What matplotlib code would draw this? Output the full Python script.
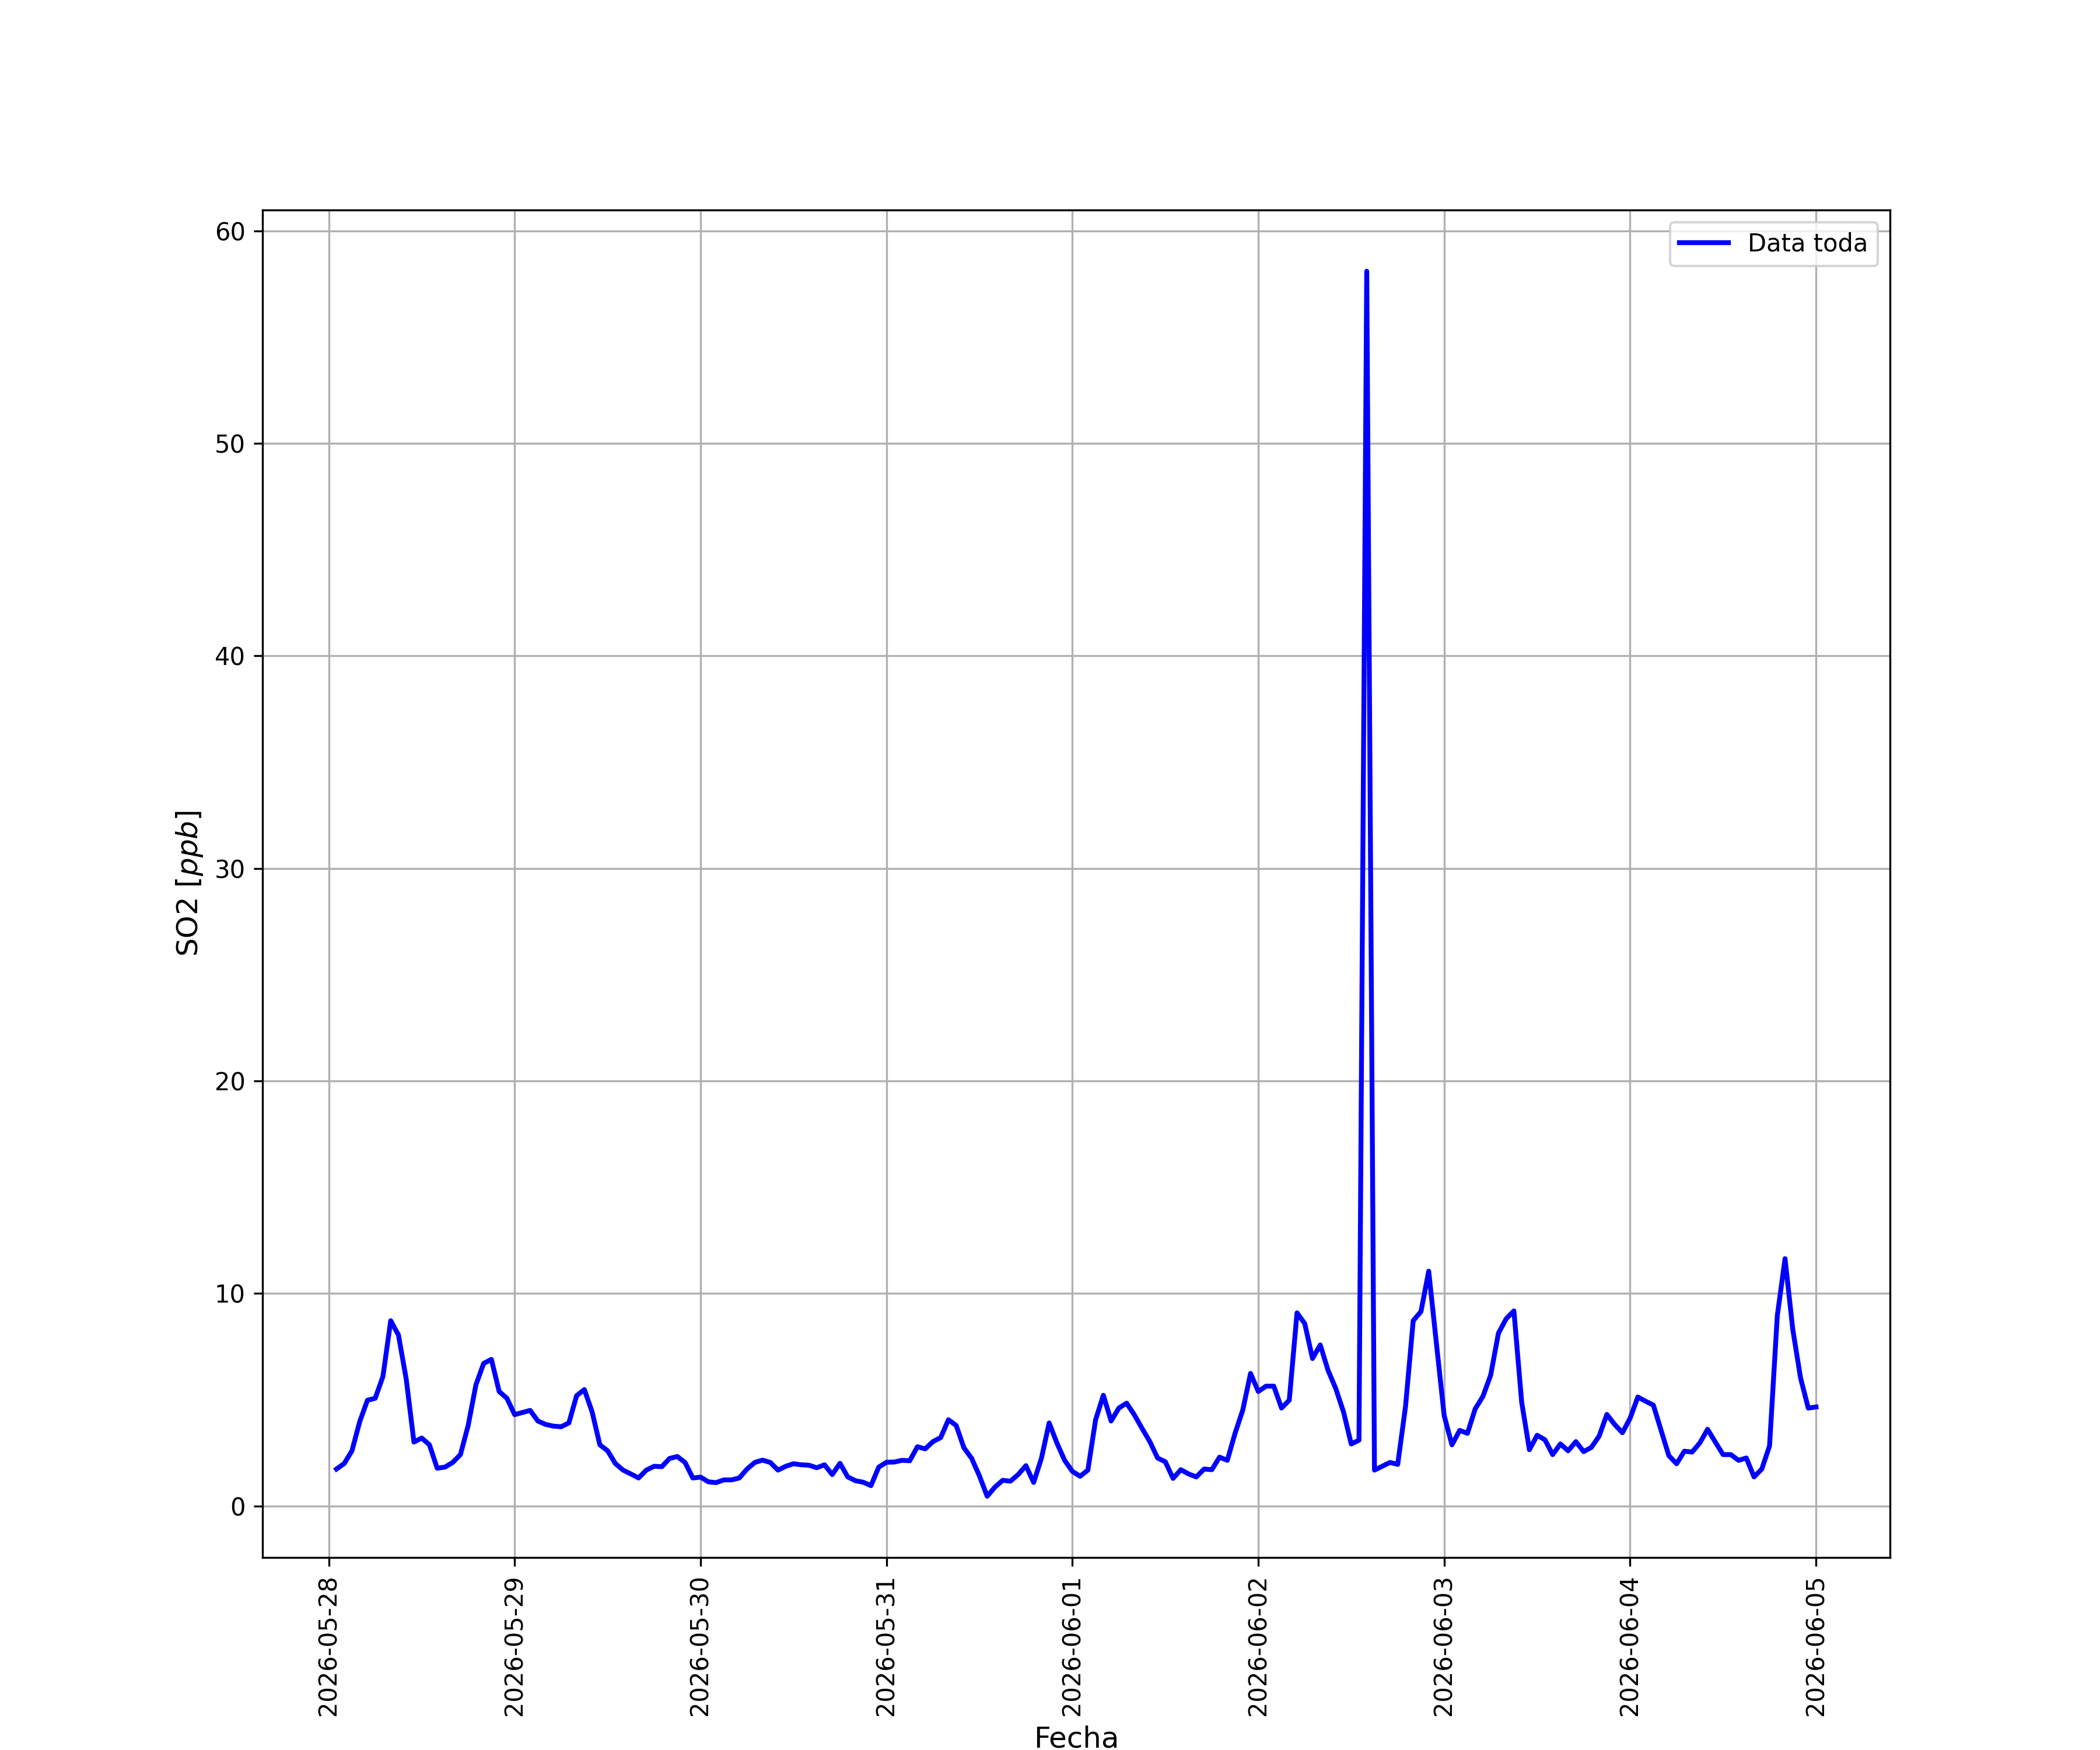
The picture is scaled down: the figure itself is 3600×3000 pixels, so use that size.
import matplotlib
matplotlib.use('Agg')
import matplotlib.pyplot as plt
import matplotlib.dates as mdates
import pandas as pd

# SO2 hourly readings, from 2026-05-28 01:00 to 2026-06-05 00:00
start = '2026-05-28 01:00'
so2 = [
    # 05-28
    1.74, 2.00, 2.60, 3.97, 4.98, 5.07, 6.10, 8.72, 8.05, 5.98, 3.01, 3.20,
    2.88, 1.78, 1.83, 2.05, 2.42, 3.79, 5.70, 6.71, 6.90, 5.39, 5.07, 4.30,
    # 05-29
    4.40, 4.50, 4.00, 3.84, 3.76, 3.73, 3.91, 5.19, 5.48, 4.43, 2.88, 2.60,
    2.00, 1.69, 1.51, 1.32, 1.69, 1.87, 1.85, 2.24, 2.33, 2.05, 1.32, 1.36,
    # 05-30
    1.14, 1.10, 1.23, 1.23, 1.32, 1.74, 2.05, 2.16, 2.05, 1.69, 1.87, 1.99,
    1.94, 1.92, 1.80, 1.94, 1.48, 2.01, 1.37, 1.19, 1.12, 0.96, 1.83, 2.06,
    # 05-31
    2.07, 2.15, 2.13, 2.79, 2.69, 3.03, 3.22, 4.06, 3.79, 2.74, 2.24, 1.42,
    0.46, 0.89, 1.21, 1.17, 1.48, 1.90, 1.11, 2.24, 3.91, 2.97, 2.15, 1.63,
    # 06-01
    1.40, 1.69, 4.06, 5.21, 4.00, 4.61, 4.84, 4.29, 3.65, 3.03, 2.26, 2.08,
    1.30, 1.71, 1.51, 1.37, 1.74, 1.71, 2.30, 2.15, 3.42, 4.52, 6.24, 5.39,
    # 06-02
    5.64, 5.64, 4.61, 4.98, 9.09, 8.58, 6.94, 7.58, 6.39, 5.53, 4.43, 2.92,
    3.10, 58.10, 1.69, 1.87, 2.05, 1.96, 4.66, 8.72, 9.15, 11.05, 7.63, 4.25,
    # 06-03
    2.88, 3.56, 3.42, 4.57, 5.16, 6.16, 8.13, 8.81, 9.18, 4.89, 2.65, 3.33,
    3.12, 2.42, 2.92, 2.60, 3.03, 2.56, 2.76, 3.29, 4.31, 3.84, 3.45, 4.13,
    # 06-04
    5.13, 4.93, 4.75, 3.56, 2.37, 1.99, 2.58, 2.54, 2.97, 3.61, 3.01, 2.42,
    2.42, 2.15, 2.26, 1.37, 1.74, 2.83, 8.95, 11.64, 8.31, 6.03, 4.61, 4.66,
]
fechas = pd.date_range(start, periods=len(so2), freq='h')

fig, ax = plt.subplots(figsize=(12, 10))
ax.plot(fechas, so2, color='blue', linewidth=2, label='Data toda')

ax.xaxis.set_major_locator(mdates.DayLocator())
ax.xaxis.set_major_formatter(mdates.DateFormatter('%Y-%m-%d'))
plt.xticks(rotation=90)

ax.set_xlabel('Fecha', fontsize=12)
ax.set_ylabel('SO2 [$ppb$]', fontsize=12)
ax.grid(True)
ax.legend(loc='upper right')

plt.savefig('out.png', dpi=300)
plt.close()
